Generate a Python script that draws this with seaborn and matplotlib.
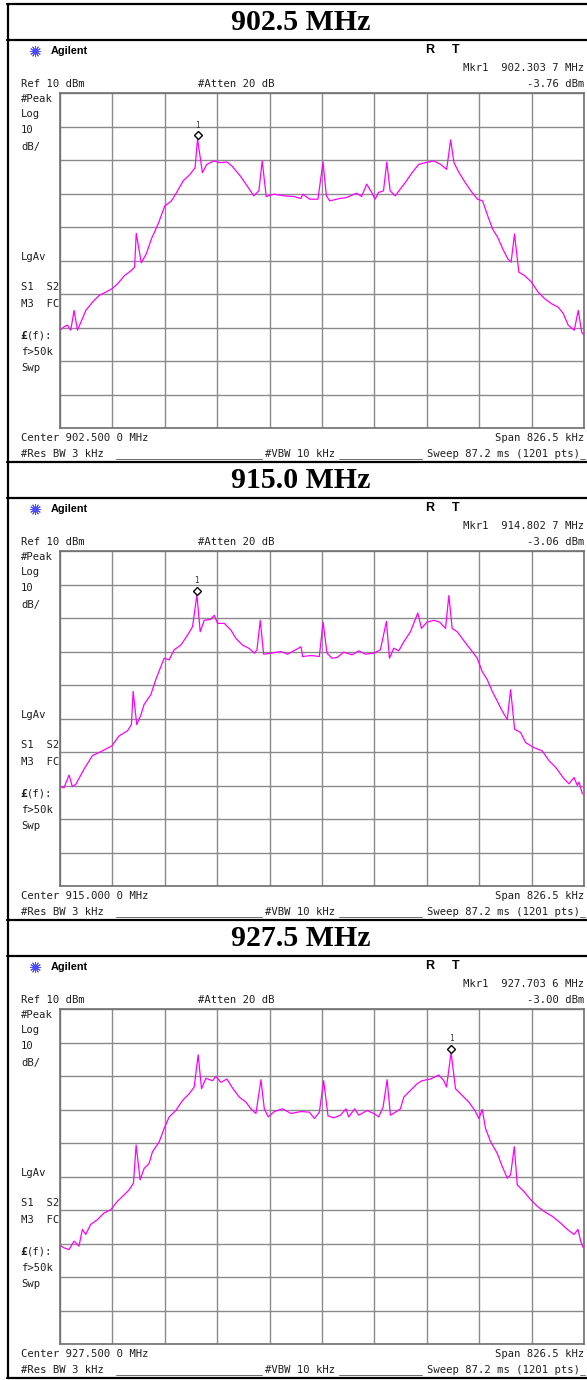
import matplotlib
matplotlib.use("Agg")
import matplotlib.pyplot as plt
import numpy as np
import pandas as pd
import seaborn as sns

sns.set_style("white")
plt.rcParams["font.family"] = ["DejaVu Sans Mono", "DejaVu Sans"]

# ---------------- data ----------------
titles = ["902.5 MHz", "915.0 MHz", "927.5 MHz"]
center_labels = ["Center 902.500 0 MHz", "Center 915.000 0 MHz", "Center 927.500 0 MHz"]
marker_freq_labels = ["Mkr1  902.303 7 MHz", "Mkr1  914.802 7 MHz", "Mkr1  927.703 6 MHz"]
marker_level_labels = ["-3.76 dBm", "-3.06 dBm", "-3.00 dBm"]
marker_khz = [-196.3, -197.3, 203.6]
marker_dbm = [-3.76, -3.06, -3.00]
span_khz = 826.5
ref_dbm = 10
db_per_div = 10

p1_khz = [-413.2, -406.9, -401.6, -396.3, -391.0, -385.7, -377.8, -372.5, -361.9, -351.3,
          -340.7, -331.1, -322.1, -311.5, -300.9, -295.6, -293.0, -285.0, -277.1, -269.2,
          -258.5, -247.9, -237.4, -229.4, -218.8, -208.2, -200.2, -196.3, -188.6, -181.7,
          -171.1, -160.5, -149.9, -142.0, -128.8, -118.2, -107.6, -99.6, -94.3, -88.0,
          -75.8, -59.9, -44.0, -33.4, -30.2, -19.6, -6.4, 1.6, 6.9, 12.2,
          28.1, 38.7, 54.6, 62.5, 70.5, 78.4, 83.7, 89.0, 97.0, 102.2,
          107.5, 115.5, 123.4, 131.4, 142.0, 152.6, 163.2, 176.4, 187.0, 196.6,
          202.9, 208.2, 216.2, 224.1, 234.7, 245.3, 253.3, 261.2, 269.1, 277.1,
          285.0, 293.0, 298.3, 303.6, 310.5, 319.5, 330.1, 340.7, 351.3, 361.9,
          372.4, 380.4, 388.3, 397.9, 404.2, 409.5, 413.2]
p1_dbm = [-60.8, -59.8, -59.3, -60.8, -54.9, -60.8, -57.3, -54.9, -52.4, -50.4,
          -49.4, -48.4, -46.9, -44.5, -43.0, -42.0, -31.9, -40.7, -38.0, -33.6,
          -29.1, -23.7, -22.2, -19.7, -16.2, -14.3, -12.3, -3.76, -13.8, -11.3,
          -10.3, -10.8, -10.6, -11.8, -14.8, -17.7, -20.7, -19.2, -10.3, -20.9,
          -20.2, -20.7, -20.9, -21.5, -20.2, -21.7, -21.7, -10.6, -20.7, -22.2,
          -21.5, -21.2, -19.9, -20.9, -17.2, -19.7, -21.7, -19.7, -19.2, -10.6,
          -19.2, -20.7, -18.7, -16.7, -13.8, -11.3, -10.8, -10.3, -11.3, -12.8,
          -4.0, -10.8, -13.8, -16.2, -19.2, -21.7, -22.2, -26.6, -30.6, -33.1,
          -36.5, -39.5, -40.5, -32.1, -43.5, -44.5, -46.4, -49.4, -51.4, -52.9,
          -53.9, -55.8, -59.3, -60.8, -54.9, -61.3, -62.3]

p2_khz = [-413.3, -407.0, -399.0, -393.8, -388.5, -375.3, -362.2, -349.0, -331.6, -320.1,
          -306.9, -300.6, -297.9, -292.2, -285.8, -280.6, -270.0, -262.2, -249.0, -241.1,
          -233.2, -222.7, -212.1, -204.2, -197.3, -192.1, -185.8, -175.3, -170.0, -164.7,
          -154.2, -143.7, -135.8, -125.3, -114.7, -106.8, -102.6, -97.4, -92.1, -80.5,
          -64.7, -54.2, -33.1, -30.5, -17.3, -4.2, 1.6, 7.9, 15.8, 23.7,
          34.2, 47.4, 57.9, 68.4, 81.6, 92.1, 101.6, 106.4, 113.2, 121.1,
          129.0, 139.5, 151.1, 156.9, 165.8, 176.4, 185.3, 194.8, 200.1, 205.3,
          213.2, 221.1, 229.0, 236.9, 244.8, 252.7, 260.6, 268.5, 276.4, 284.3,
          292.2, 297.5, 303.8, 313.3, 321.2, 334.3, 347.5, 358.0, 368.6, 381.7,
          389.6, 397.5, 402.8, 405.4, 410.7]
p2_dbm = [-60.3, -60.7, -56.9, -60.3, -59.7, -55.1, -51.1, -49.9, -48.2, -45.2,
          -43.7, -41.8, -31.9, -41.8, -39.0, -35.8, -32.9, -28.4, -22.0, -22.5,
          -19.5, -18.1, -15.1, -12.6, -3.06, -14.1, -10.7, -10.4, -9.2, -11.6,
          -11.6, -13.6, -16.1, -18.1, -19.1, -20.5, -19.5, -10.7, -20.8, -20.5,
          -20.0, -20.8, -18.6, -21.5, -21.2, -21.5, -11.2, -20.5, -22.0, -21.8,
          -20.2, -21.0, -19.8, -20.8, -20.5, -19.5, -11.0, -22.0, -19.0, -19.8,
          -17.1, -14.1, -8.5, -13.1, -11.2, -10.7, -11.2, -13.1, -3.3, -13.1,
          -14.1, -16.1, -18.1, -20.0, -22.0, -26.0, -28.4, -31.9, -34.8, -37.8,
          -40.3, -31.4, -43.2, -44.2, -47.2, -48.7, -49.7, -52.6, -54.6, -58.0,
          -59.5, -57.6, -60.0, -59.0, -62.5]

p3_khz = [-413.3, -407.0, -399.0, -391.1, -383.3, -378.0, -372.7, -364.8, -354.3, -343.8,
          -333.2, -322.7, -312.2, -304.3, -297.4, -293.2, -286.9, -280.6, -272.7, -267.4,
          -256.9, -249.0, -241.1, -230.6, -220.0, -209.5, -201.6, -195.3, -190.0, -183.2,
          -172.6, -167.4, -159.5, -150.0, -141.1, -130.5, -120.0, -112.1, -104.2, -96.3,
          -91.0, -84.7, -75.2, -62.1, -48.9, -33.1, -19.9, -12.0, -4.2, 2.6,
          9.5, 18.4, 29.0, 37.9, 42.1, 51.6, 57.9, 71.1, 81.6, 89.5,
          96.3, 102.7, 107.9, 115.8, 123.7, 129.0, 139.5, 150.1, 157.9, 171.1,
          184.3, 192.2, 196.4, 203.6, 210.6, 221.1, 231.7, 241.1, 247.5, 252.7,
          258.0, 265.9, 276.4, 284.3, 292.2, 297.5, 303.3, 308.0, 318.5, 329.1,
          339.6, 350.1, 363.3, 376.4, 387.0, 397.5, 403.8, 408.0, 412.2]
p3_dbm = [-60.5, -61.3, -61.8, -59.3, -60.8, -55.8, -57.3, -54.3, -52.9, -50.9,
          -49.9, -47.4, -45.5, -44.0, -42.0, -30.6, -41.0, -37.6, -36.1, -32.6,
          -29.7, -25.7, -22.2, -20.3, -17.3, -15.3, -13.3, -3.7, -13.8, -10.7,
          -11.4, -10.1, -11.9, -10.9, -13.6, -16.3, -17.8, -19.8, -21.2, -11.1,
          -19.8, -22.2, -20.6, -19.8, -21.2, -20.6, -20.8, -22.7, -20.8, -11.4,
          -21.9, -22.5, -21.7, -19.8, -22.2, -19.8, -21.7, -20.3, -21.2, -22.2,
          -19.3, -11.1, -21.7, -20.8, -19.8, -16.3, -14.3, -12.3, -11.4, -10.9,
          -9.7, -11.4, -13.3, -3.00, -13.8, -15.8, -17.8, -20.3, -22.7, -20.0,
          -25.7, -29.6, -33.1, -37.0, -40.5, -39.5, -31.1, -42.5, -44.5, -46.9,
          -48.9, -50.4, -51.9, -53.9, -55.8, -57.3, -55.8, -59.3, -61.3]

traces = [(p1_khz, p1_dbm), (p2_khz, p2_dbm), (p3_khz, p3_dbm)]

# ---------------- layout ----------------
W, H = 587, 1380
PITCH = 458
fig = plt.figure(figsize=(W / 100, H / 100), dpi=100)
fig.patch.set_facecolor("white")

bg = fig.add_axes([0, 0, 1, 1], zorder=0)
bg.set_xlim(0, W)
bg.set_ylim(H, 0)
bg.axis("off")

MONO = 7.6
TXT = "#1e1e1e"
GRID = "#8a8a8a"

def txt(x, y, s, ha="left", **kw):
    kw.setdefault("fontsize", MONO)
    kw.setdefault("color", TXT)
    bg.text(x, y, s, ha=ha, va="center", **kw)

# outer frame lines
bg.plot([8, 8], [3, 1379], color="black", lw=1.6, solid_capstyle="butt")
for k in range(3):
    o = k * PITCH
    if k == 0:
        bg.plot([7, 587], [4 + o, 4 + o], color="black", lw=1.6)
    bg.plot([7, 587], [39.5 + o, 39.5 + o], color="black", lw=1.6)
    bg.plot([7, 587], [462 + o, 462 + o], color="black", lw=1.6)

    # title
    bg.text(301, 22 + o, titles[k], ha="center", va="center", fontsize=21.5,
            fontweight="bold", family="Liberation Serif", color="black")

    # header
    bg.scatter([35], [51 + o], marker=(12, 2, 0), s=55, color="#4a4aff", lw=0.7)
    bg.text(51, 51 + o, "Agilent", ha="left", va="center", fontsize=7.8,
            fontweight="bold", family="Liberation Sans", color="black")
    bg.text(430, 50 + o, "R", ha="center", va="center", fontsize=9,
            fontweight="bold", family="Liberation Sans", color="black")
    bg.text(456, 50 + o, "T", ha="center", va="center", fontsize=9,
            fontweight="bold", family="Liberation Sans", color="black")
    txt(584, 68 + o, marker_freq_labels[k], ha="right")
    txt(21, 84 + o, "Ref 10 dBm")
    txt(198, 84 + o, "#Atten 20 dB")
    txt(584, 84 + o, marker_level_labels[k], ha="right")

    # left annotations
    for yy, s in [(99, "#Peak"), (114, "Log"), (130, "10"), (147, "dB/"),
                  (257, "LgAv"), (287, "S1  S2"), (304, "M3  FC"),
                  (352, "f>50k"), (368, "Swp")]:
        txt(21, yy + o, s)
    txt(20, 336 + o, "\u00a3", fontweight="bold", fontsize=8.2)
    txt(27, 336 + o, "(f):")

    # bottom annotations
    txt(21, 438 + o, center_labels[k])
    txt(584, 438 + o, "Span 826.5 kHz", ha="right")
    txt(21, 454 + o, "#Res BW 3 kHz")
    txt(265, 454 + o, "#VBW 10 kHz")
    txt(580, 454 + o, "Sweep 87.2 ms (1201 pts)", ha="right")
    for x0, x1 in [(116, 262), (339, 422), (580, 585)]:
        bg.plot([x0, x1], [459 + o, 459 + o], color="#555555", lw=0.6)

    # spectrum axes
    top = 93 + o
    bot = 428 + o
    ax = fig.add_axes([60 / W, 1 - bot / H, 524 / W, (bot - top) / H], zorder=2)
    ax.patch.set_alpha(0)
    half = span_khz / 2
    ax.set_xlim(-half, half)
    ax.set_ylim(ref_dbm - 10 * db_per_div, ref_dbm)
    ax.set_xticks(np.linspace(-half, half, 11))
    ax.set_yticks(np.arange(ref_dbm - 10 * db_per_div, ref_dbm + 1, db_per_div))
    ax.grid(True, color=GRID, lw=1.0)
    ax.tick_params(length=0, labelbottom=False, labelleft=False)
    for sp in ax.spines.values():
        sp.set_color("#707070")
        sp.set_linewidth(1.2)

    df = pd.DataFrame({"khz": traces[k][0], "dbm": traces[k][1]})
    sns.lineplot(data=df, x="khz", y="dbm", ax=ax, color="#ff00ff", lw=0.9,
                 sort=False, estimator=None)
    ax.set_xlabel("")
    ax.set_ylabel("")

    # marker 1
    ax.plot([marker_khz[k]], [marker_dbm[k] + 1.2], marker="D", ms=4.2,
            mfc="white", mec="black", mew=1.0, clip_on=False)
    ax.text(marker_khz[k], marker_dbm[k] + 4.2, "1", ha="center", va="center",
            fontsize=5.5, color="#333333")

fig.savefig("out.png", dpi=100)
